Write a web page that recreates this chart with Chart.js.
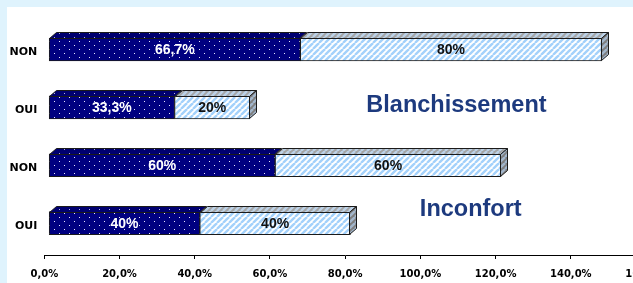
<!DOCTYPE html>
<html><head><meta charset="utf-8">
<script src="https://cdn.jsdelivr.net/npm/chart.js@4/dist/chart.umd.min.js"></script>
<style>
html,body{margin:0;padding:0;width:633px;height:283px;overflow:hidden;background:#dff3fd;}
#wrap{position:absolute;left:7px;top:7px;width:690px;height:276px;background:#ffffff;}
canvas{display:block;}
</style></head><body>
<div id="wrap"><canvas id="c" width="690" height="276"></canvas></div>
<script>
// ---- data ----
const categories = ['NON', 'OUI', 'NON', 'OUI'];
const darkValues = [66.7, 33.3, 60, 40];
const lightValues = [80, 20, 60, 40];
const groupTitles = ['Blanchissement', 'Inconfort'];
const xTickMin = 0, xTickMax = 160, xTickStep = 20;

// ---- styles ----
const canvas = document.getElementById('c');
const ctx0 = canvas.getContext('2d');
function dotPattern(bg, dot) {
  const c = document.createElement('canvas'); c.width = 10; c.height = 8;
  const g = c.getContext('2d');
  g.fillStyle = bg; g.fillRect(0, 0, 10, 8);
  g.fillStyle = dot; g.fillRect(2, 2, 1, 1); g.fillRect(7, 6, 1, 1);
  return ctx0.createPattern(c, 'repeat');
}
function stripePattern(bg, fg) {
  const c = document.createElement('canvas'); c.width = 6; c.height = 6;
  const g = c.getContext('2d');
  g.fillStyle = bg; g.fillRect(0, 0, 6, 6);
  g.strokeStyle = fg; g.lineWidth = 2.4;
  [-6, 0, 6].forEach(o => { g.beginPath(); g.moveTo(o, 6); g.lineTo(o + 6, 0); g.stroke(); });
  return ctx0.createPattern(c, 'repeat');
}
const frontFills = [dotPattern('#000080', '#e8e8ff'), stripePattern('#ffffff', '#a3d1fb')];
const topFills = [dotPattern('#000070', '#b0b0d8'), stripePattern('#a4a4a4', '#bcd2e8')];
const sideFill = stripePattern('#7e7e7e', '#a2b6cc');
const labelColors = ['#ffffff', '#111111'];
const edge = '#1a1a1a';
const DX = 7, DY = 6;

function fmt(v) {
  return (Number.isInteger(v) ? String(v) : v.toFixed(1).replace('.', ',')) + '%';
}

const bar3d = {
  id: 'bar3d',
  afterDatasetsDraw(chart) {
    const ctx = chart.ctx;
    const n = chart.data.datasets.length;
    chart.data.datasets.forEach((ds, di) => {
      const meta = chart.getDatasetMeta(di);
      meta.data.forEach((el) => {
        const p = el.getProps(['x', 'y', 'base', 'height'], true);
        const top = Math.round(p.y - p.height / 2) + 0.5;
        const bot = Math.round(p.y + p.height / 2) - 0.5;
        const l = Math.round(Math.min(p.x, p.base)) + 0.5;
        const r = Math.round(Math.max(p.x, p.base)) - 0.5;
        ctx.save();
        ctx.lineWidth = 1; ctx.strokeStyle = edge;
        ctx.beginPath();
        ctx.moveTo(l, top); ctx.lineTo(l + DX, top - DY); ctx.lineTo(r + DX, top - DY); ctx.lineTo(r, top);
        ctx.closePath();
        ctx.fillStyle = topFills[di]; ctx.fill(); ctx.stroke();
        if (di === n - 1) {
          ctx.beginPath();
          ctx.moveTo(r, top); ctx.lineTo(r + DX, top - DY); ctx.lineTo(r + DX, bot - DY); ctx.lineTo(r, bot);
          ctx.closePath();
          ctx.fillStyle = sideFill; ctx.fill(); ctx.stroke();
        }
        ctx.restore();
      });
    });
    // value labels
    chart.data.datasets.forEach((ds, di) => {
      const meta = chart.getDatasetMeta(di);
      meta.data.forEach((el, i) => {
        const p = el.getProps(['x', 'y', 'base'], true);
        ctx.save();
        ctx.font = 'bold 14px "Liberation Sans", Arial, sans-serif';
        ctx.fillStyle = labelColors[di];
        ctx.textAlign = 'center'; ctx.textBaseline = 'middle';
        ctx.fillText(fmt(ds.data[i]), (p.x + p.base) / 2, p.y + 1);
        ctx.restore();
      });
    });
    // group titles
    const xs = chart.scales.x, ys = chart.scales.y;
    const anchors = [[109.6, 0.965], [113.4, 2.765]];
    groupTitles.forEach((t, i) => {
      ctx.save();
      ctx.font = 'bold 23.5px "Liberation Sans", Arial, sans-serif';
      ctx.fillStyle = '#1d3a7e';
      ctx.textAlign = 'center'; ctx.textBaseline = 'middle';
      ctx.fillText(t, xs.getPixelForValue(anchors[i][0]), ys.getPixelForValue(anchors[i][1]));
      ctx.restore();
    });
  }
};

new Chart(canvas, {
  type: 'bar',
  data: {
    labels: categories,
    datasets: [
      { data: darkValues, backgroundColor: frontFills[0], borderColor: edge, borderWidth: 1, borderSkipped: false, xAxisID: 'x2', barThickness: 23 },
      { data: lightValues, backgroundColor: frontFills[1], borderColor: edge, borderWidth: 1, borderSkipped: false, xAxisID: 'x2', barThickness: 23 }
    ]
  },
  options: {
    indexAxis: 'y',
    responsive: false,
    animation: false,
    layout: { padding: { left: 0, top: 11, right: 51, bottom: 31 } },
    plugins: { legend: { display: false }, tooltip: { enabled: false } },
    scales: {
      x: {
        type: 'linear', min: xTickMin, max: xTickMax,
        position: { y: 3.568 },
        grid: { drawOnChartArea: false, tickLength: 3, color: '#000', tickColor: '#000' },
        border: { color: '#000', width: 1 },
        ticks: {
          stepSize: xTickStep, padding: 9, color: '#000',
          font: { family: '"DejaVu Sans", sans-serif', size: 10, weight: 'bold' },
          callback: v => v.toFixed(1).replace('.', ',') + '%'
        }
      },
      x2: { type: 'linear', display: false, stacked: true, min: -1.3, max: 158.5 },
      y: {
        stacked: true,
        afterFit: s => { s.width = 37.3; },
        grid: { display: false, drawTicks: false },
        border: { display: false },
        ticks: {
          padding: 7, color: '#000', labelOffset: 3,
          font: { family: '"DejaVu Sans", sans-serif', size: 11, weight: 'bold' }
        }
      }
    }
  },
  plugins: [bar3d]
});
</script>
</body></html>
